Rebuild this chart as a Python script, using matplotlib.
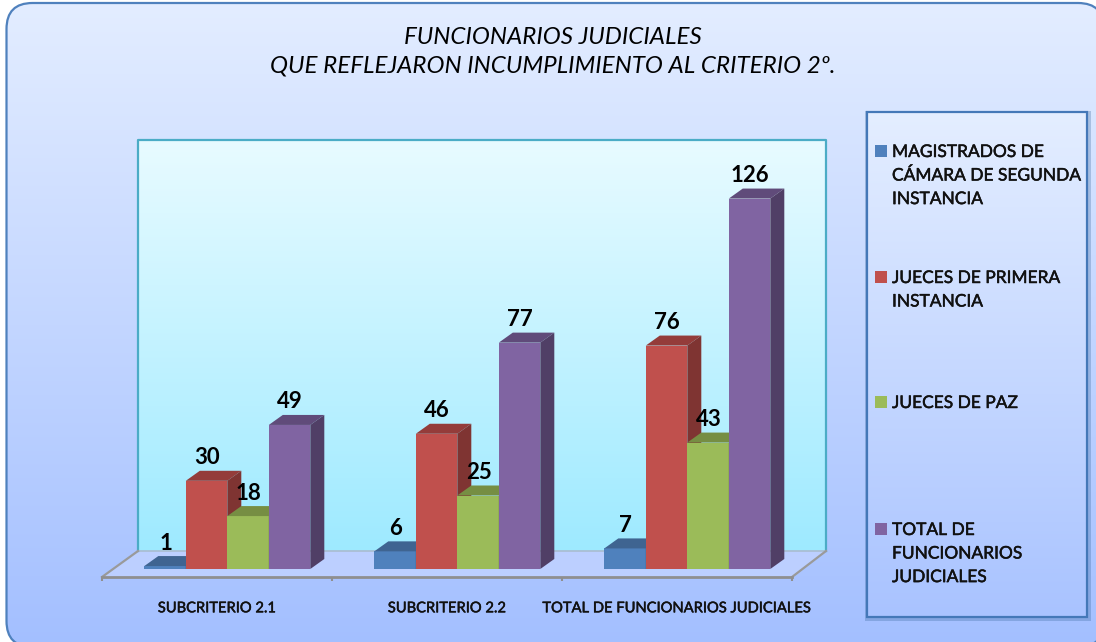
import numpy as np
import matplotlib
matplotlib.use("Agg")
import matplotlib.pyplot as plt
import matplotlib.patheffects as pe
from matplotlib.patches import FancyBboxPatch, Rectangle, Polygon

categories = ["SUBCRITERIO 2.1", "SUBCRITERIO 2.2", "TOTAL DE FUNCIONARIOS JUDICIALES"]
magistrados = [1, 6, 7]
jueces_primera = [30, 46, 76]
jueces_paz = [18, 25, 43]
total = [49, 77, 126]
series_values = [magistrados, jueces_primera, jueces_paz, total]
series_names = ["MAGISTRADOS DE\nCÁMARA DE SEGUNDA\nINSTANCIA", "JUECES DE PRIMERA\nINSTANCIA",
                "JUECES DE PAZ", "TOTAL DE\nFUNCIONARIOS\nJUDICIALES"]
title_lines = ["FUNCIONARIOS JUDICIALES", "QUE REFLEJARON INCUMPLIMIENTO AL CRITERIO 2º."]

front = ["#4f81bd", "#c0504d", "#9bbb59", "#8064a2"]
topc = ["#3f6491", "#943c3a", "#768e43", "#604b7a"]
side = ["#385a82", "#7f3432", "#667b3a", "#503f66"]

W, H = 1096, 642
plt.rcParams["font.family"] = ["Lato", "DejaVu Sans"]
fig = plt.figure(figsize=(W / 100, H / 100), dpi=100, facecolor="white")
thicken = [pe.withStroke(linewidth=0.35, foreground="#111111")]


def grad(ax, box, c0, c1, clip=None, zorder=1):
    a, b = np.array(matplotlib.colors.to_rgb(c0)), np.array(matplotlib.colors.to_rgb(c1))
    t = np.linspace(0, 1, 256)[:, None, None]
    im = ax.imshow(a[None, None, :] * (1 - t) + b[None, None, :] * t, extent=box, aspect="auto",
                   zorder=zorder, interpolation="bilinear")
    if clip is not None:
        im.set_clip_path(clip)
    return im


bg = fig.add_axes([0, 0, 1, 1])
bg.set_xlim(0, W)
bg.set_ylim(H, 0)
bg.axis("off")
panel = FancyBboxPatch((6.5, 3), 1097.5, 644, boxstyle="round,pad=0,rounding_size=26",
                       fc=(1, 1, 1, 0.004), ec="#4f81bd", lw=1.6, zorder=3, clip_on=False)
bg.add_patch(panel)
grad(bg, (6, 1104, 647, 3), "#e3edff", "#a3bfff", clip=panel)
bg.set_xlim(0, W)
bg.set_ylim(H, 0)

# floor and back wall
bg.add_patch(Polygon([(138, 551), (826, 551), (792, 577), (102, 577)], closed=True,
                     fc="#bccfff", ec="none", zorder=3.1))
grad(bg, (138, 826, 551, 140), "#e8fbff", "#9eeaff", zorder=3.1)
bg.set_xlim(0, W)
bg.set_ylim(H, 0)
bg.plot([138, 138, 826, 826], [551, 140, 140, 551], color="#4bacc6", lw=1.6, zorder=3.2)
bg.plot([138, 826], [551, 551], color="#a9bcd0", lw=1.2, zorder=3.2)
bg.plot([102, 138], [577, 551], color="#9a9a9a", lw=1.6, zorder=3.2)
bg.plot([792, 826], [577, 551], color="#9a9a9a", lw=1.6, zorder=3.2)

# title
for line, y in zip(title_lines, [37, 66]):
    bg.text(553, y, line, ha="center", va="center", fontsize=17.4, style="italic", color="black", zorder=5)

# legend
bg.add_patch(Rectangle((865, 111), 225.5, 510, fc="#2f5f95", ec="none", alpha=0.28, zorder=3.3))
grad(bg, (867, 1087, 617, 112), "#e4eeff", "#a9c3ff", zorder=3.5)
bg.set_xlim(0, W)
bg.set_ylim(H, 0)
bg.add_patch(Rectangle((867, 112), 220, 505, fc="none", ec="#4478b8", lw=1.6, zorder=4))
for name, col, y in zip(series_names, front, [151, 277, 402, 529]):
    bg.add_patch(Rectangle((875, y - 6), 12, 12, fc=col, ec="none", zorder=5))
    bg.text(892, y - 7, name, ha="left", va="top", fontsize=12.5, color="#111111",
            linespacing=1.58, zorder=5, path_effects=thicken)

# bars
L, R, Y0, Ytop = 102, 792, 569, 140
PX_PER_UNIT = 2.94
ax = fig.add_axes([L / W, 1 - Y0 / H, (R - L) / W, (Y0 - Ytop) / H], zorder=2)
ax.patch.set_alpha(0)
ax.set_xlim(-0.5, 2.5)
ax.set_ylim(0, (Y0 - Ytop) / PX_PER_UNIT)
for s in ["left", "right", "top"]:
    ax.spines[s].set_visible(False)
ax.spines["bottom"].set_position(("outward", 8 * 0.72))
ax.spines["bottom"].set_color("#8f8f8f")
ax.spines["bottom"].set_linewidth(2)
ax.set_yticks([])
ax.set_xticks([-0.5, 0.5, 1.5, 2.5])
ax.set_xticklabels([])
ax.tick_params(axis="x", which="major", length=3, width=1.5, color="#8f8f8f")
ax.set_xticks([0, 1, 2], minor=True)
ax.set_xticklabels(categories, minor=True, fontsize=10.6, color="#111111", path_effects=thicken)
ax.tick_params(axis="x", which="minor", length=0, pad=17.5)

bw = 41.5 / 230
shift = 10.3 / 230
dx = 14 / 230
dy = 10 / PX_PER_UNIT
n = len(series_values)
for g in range(len(categories)):
    for i in range(n):
        v = series_values[i][g]
        x0 = g + shift + (i - n / 2) * bw
        z = 3 + g * 10 + i
        ax.bar(x0, v, bw, align="edge", color=front[i], zorder=z, clip_on=False)
        ax.add_patch(Polygon([(x0, v), (x0 + bw, v), (x0 + bw + dx, v + dy), (x0 + dx, v + dy)],
                             closed=True, fc=topc[i], ec="none", zorder=z, clip_on=False))
        ax.add_patch(Polygon([(x0 + bw, 0), (x0 + bw + dx, dy), (x0 + bw + dx, v + dy), (x0 + bw, v)],
                             closed=True, fc=side[i], ec="none", zorder=z, clip_on=False))
        ax.annotate(str(v), (x0 + bw / 2, v), xytext=(0.5, 23 * 0.72), textcoords="offset points",
                    ha="center", va="center", fontsize=16, color="black", fontweight="bold",
                    zorder=100, annotation_clip=False)

fig.savefig("out.png", dpi=100, facecolor="white")
